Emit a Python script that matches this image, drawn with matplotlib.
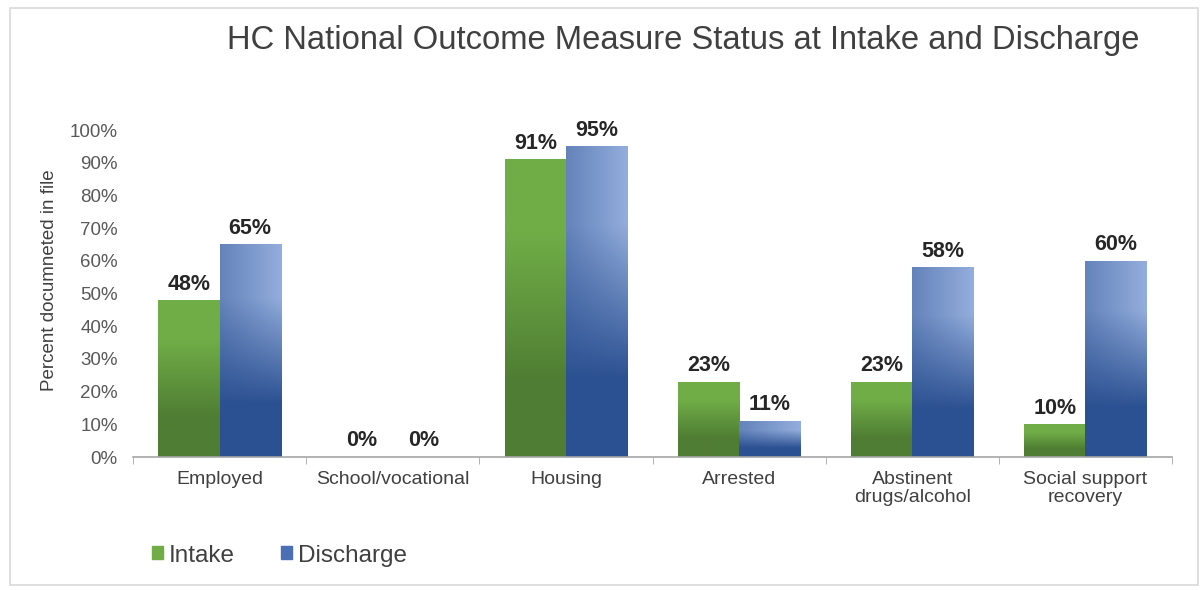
import numpy as np
import matplotlib.pyplot as plt
from matplotlib.patches import Rectangle
from matplotlib.colors import to_rgb

plt.rcParams['font.family'] = ['Liberation Sans', 'DejaVu Sans']

categories = ["Employed", "School/vocational", "Housing", "Arrested",
              "Abstinent\ndrugs/alcohol", "Social support\nrecovery"]
intake    = [48, 0, 91, 23, 23, 10]
discharge = [65, 0, 95, 11, 58, 60]
series    = ["Intake", "Discharge"]

# gradient colours (top, bottom) per series
green_top, green_bot = "#70ad47", "#4f7d33"
blue_top, blue_bot   = "#93addc", "#2c5192"

fig = plt.figure(figsize=(12.01, 5.91), dpi=100)
ax = fig.add_axes([0.1107, 0.2267, 0.8652, 0.5533])

x = np.arange(len(categories))
w = 0.353


def gradient_bar(ax, xc, h, top, bot, diag=False):
    bar = ax.bar(xc, h, width=w, color=bot, zorder=2, lw=0)[0]
    if h <= 0:
        return bar
    t = np.array(to_rgb(top))
    b = np.array(to_rgb(bot))
    ny, nx = 100, 30
    yy = np.linspace(0, 1, ny)[:, None]
    xx = np.linspace(0, 1, nx)[None, :]
    f = np.clip((yy - 0.25) / 0.5, 0, 1)  # 0 at bottom, 1 at top
    f = f * np.ones_like(xx)
    if diag:
        f = f * (0.55 + 0.45 * xx)
    img = b[None, None, :] + (t - b)[None, None, :] * f[:, :, None]
    im = ax.imshow(img, extent=[xc - w / 2, xc + w / 2, 0, h],
                   origin="lower", aspect="auto", zorder=2.5, interpolation="bilinear")
    im.set_clip_path(bar)
    return bar


for i in range(len(categories)):
    gradient_bar(ax, x[i] - w / 2, intake[i], green_top, green_bot)
    gradient_bar(ax, x[i] + w / 2, discharge[i], blue_top, blue_bot, diag=True)
    for xc, v in [(x[i] - w / 2, intake[i]), (x[i] + w / 2, discharge[i])]:
        ax.annotate("{}%".format(v), (xc, v), xytext=(0, 4), textcoords="offset points",
                    ha="center", va="bottom", fontsize=15.5, fontweight="bold",
                    color="#262626", zorder=4)

ax.set_xlim(-0.5, len(categories) - 0.5)
ax.set_ylim(0, 100)
ax.set_yticks(np.arange(0, 101, 10))
ax.set_yticklabels(["{}%".format(v) for v in range(0, 101, 10)])
ax.set_xticks(x)
ax.set_xticklabels(categories, linespacing=1.05)
ax.set_xticks(np.arange(-0.5, len(categories)), minor=True)
ax.tick_params(axis="x", which="major", length=0, pad=10, labelsize=14, colors="#404040")
ax.tick_params(axis="x", which="minor", length=5, color="#a6a6a6", direction="out")
ax.tick_params(axis="y", length=0, pad=11, labelsize=13.5, colors="#595959")

for s in ["top", "right", "left"]:
    ax.spines[s].set_visible(False)
ax.spines["bottom"].set_color("#a6a6a6")
ax.spines["bottom"].set_linewidth(1.2)

ax.set_ylabel("Percent documneted in file", fontsize=13.5, color="#404040")
ax.yaxis.set_label_coords(-0.0725, 0.54)

fig.text(0.569, 0.932, "HC National Outcome Measure Status at Intake and Discharge",
         ha="center", va="center", fontsize=23.6, color="#404040")

# legend
handles = [Rectangle((0, 0), 1, 1, color=green_top), Rectangle((0, 0), 1, 1, color="#4a6fb5")]
fig.legend(handles, series, loc="center left", bbox_to_anchor=(0.108, 0.06), ncol=2,
           frameon=False, fontsize=17.5, handlelength=0.45, handleheight=0.45,
           handletextpad=0.25, columnspacing=1.9, labelcolor="#404040")

# outer frame
fig.add_artist(Rectangle((10 / 1201, 6 / 591), 1188 / 1201, 577 / 591,
                         transform=fig.transFigure, fill=False, ec="#d9d9d9", lw=1.2))

fig.savefig("out.png", dpi=100)
